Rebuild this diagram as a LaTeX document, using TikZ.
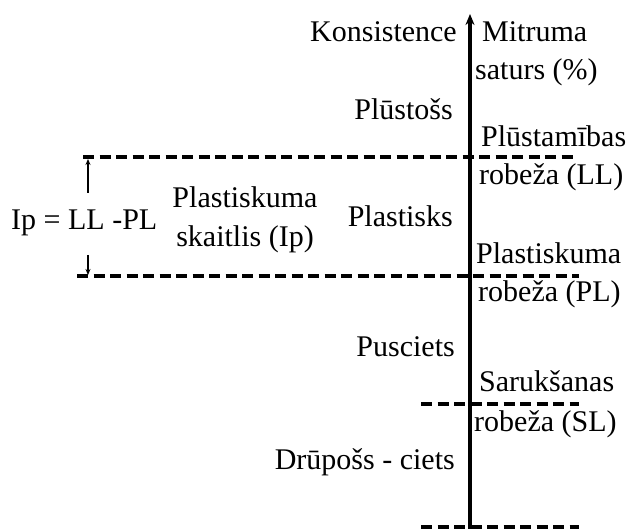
\documentclass[tikz,border=0pt]{standalone}
\usepackage{fontspec}
\setmainfont{Liberation Serif}
\usetikzlibrary{arrows.meta}
\begin{document}
\begin{tikzpicture}[x=1pt,y=-1pt,
  lbl/.style={inner sep=0pt,font=\fontsize{30}{34}\selectfont},
  lblr/.style={lbl,anchor=base east},
  lbll/.style={lbl,anchor=base west},
  limit/.style={line width=3.8pt,dash pattern=on 11pt off 5.5pt},
  axisline/.style={line width=3.2pt,-{Stealth[length=11pt,width=9pt]}},
  ipar/.style={line width=1.6pt,-{Stealth[length=6pt,width=5pt]}}]
\useasboundingbox (0,0) rectangle (630,529);
\fill[white] (0,0) rectangle (630,529);
% axis
\coordinate (axB) at (470,529);
\coordinate (axT) at (470,14);
\draw[axisline] (axB) -- (axT);
% limit lines
\coordinate (llA) at (83,157);
\coordinate (llB) at (576,157);
\coordinate (plA) at (77,276);
\coordinate (plB) at (579,276);
\coordinate (slA) at (421,404);
\coordinate (slB) at (579,404);
\coordinate (blA) at (421,527);
\coordinate (blB) at (579,527);
\draw[limit] (llA) -- (llB);
\draw[limit] (plA) -- (plB);
\draw[limit] (slA) -- (slB);
\draw[limit] (blA) -- (blB);
% Ip arrows
\coordinate (ipU0) at (88,193);
\coordinate (ipU1) at (88,159);
\coordinate (ipD0) at (88,255);
\coordinate (ipD1) at (88,275);
\draw[ipar] (ipU0) -- (ipU1);
\draw[ipar] (ipD0) -- (ipD1);
% texts
\node[lblr] (kons) at (457,42) {Konsistence};
\node[lbll] (mit1) at (482,42) {Mitruma};
\node[lbll] (mit2) at (475,80) {saturs (\%)};
\node[lblr] (plu) at (453,120) {Plūstošs};
\node[lbll] (ll1) at (481,147) {Plūstamības};
\node[lbll] (ll2) at (479,185) {robeža (LL)};
\node[lbll] (ipf) at (11,230) {Ip = LL -PL};
\node[lbl,anchor=base] (ips1) at (245,208) {Plastiskuma};
\node[lbl,anchor=base] (ips2) at (245,247) {skaitlis (Ip)};
\node[lblr] (plas) at (453,227) {Plastisks};
\node[lbll] (pl1) at (476,264) {Plastiskuma};
\node[lbll] (pl2) at (478,302) {robeža (PL)};
\node[lblr] (pus) at (455,357) {Pusciets};
\node[lbll] (sl1) at (479,392) {Sarukšanas};
\node[lbll] (sl2) at (474,432) {robeža (SL)};
\node[lblr] (dru) at (455,470) {Drūpošs - ciets};
\end{tikzpicture}
\end{document}
